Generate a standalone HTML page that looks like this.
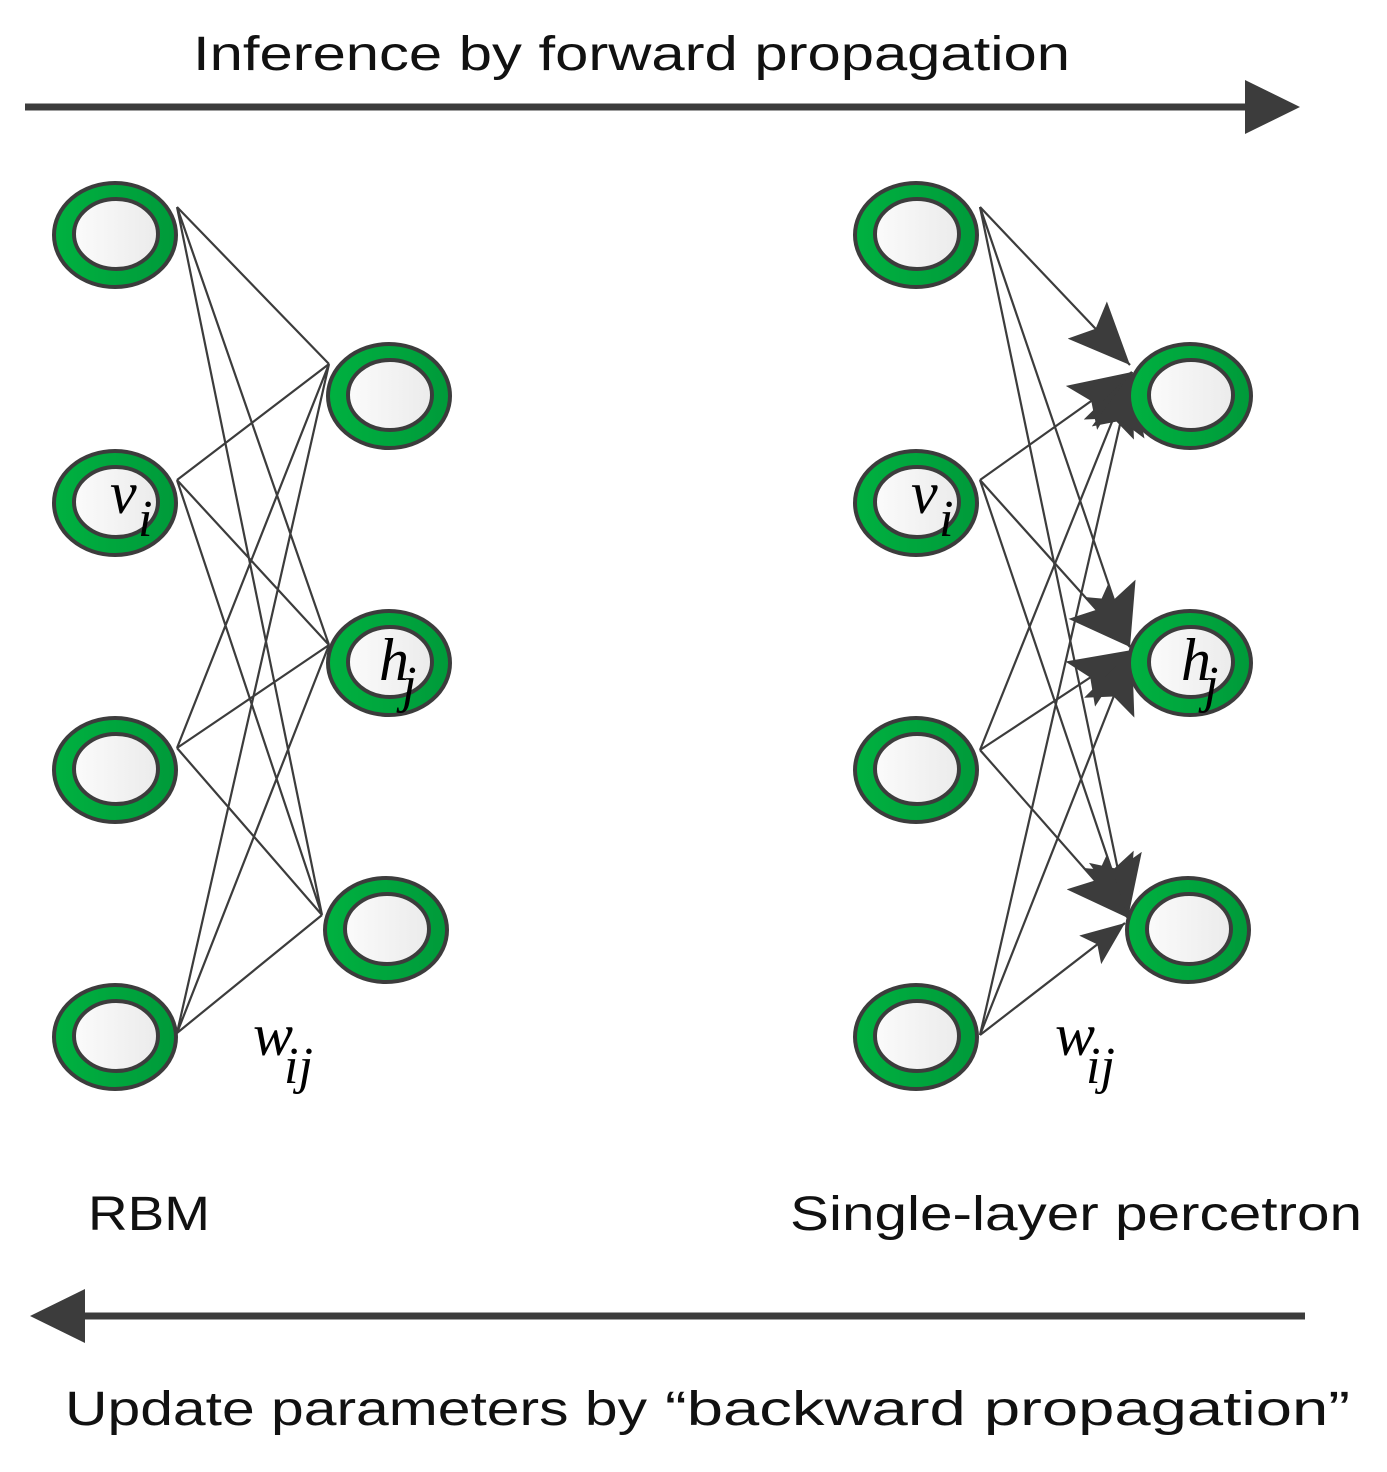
<!DOCTYPE html>
<html><head><meta charset="utf-8"><style>html,body{margin:0;padding:0;background:#fff}svg{display:block}</style></head>
<body>
<svg width="1387" height="1472" viewBox="0 0 1387 1472" xmlns="http://www.w3.org/2000/svg">
<defs>
<linearGradient id="g" x1="0" x2="1"><stop offset="0" stop-color="#00b140"/><stop offset="1" stop-color="#009a3a"/></linearGradient>
<linearGradient id="w" x1="0" x2="1"><stop offset="0" stop-color="#fbfbfb"/><stop offset="1" stop-color="#ebebeb"/></linearGradient>
<marker id="a" markerUnits="userSpaceOnUse" markerWidth="64" markerHeight="54" refX="62" refY="27" orient="auto"><path d="M0,0 L62,27 L0,54 L12,27 Z" fill="#3c3c3c"/></marker>
<marker id="b" markerUnits="userSpaceOnUse" markerWidth="46" markerHeight="36" refX="44" refY="18" orient="auto"><path d="M0,0 L44,18 L0,36 L9,18 Z" fill="#3c3c3c"/></marker>
<g id="n"><ellipse cx="0" cy="0" rx="61" ry="52" fill="url(#g)" stroke="#3c3c3c" stroke-width="4"/><ellipse cx="1" cy="-1" rx="42" ry="35" fill="url(#w)" stroke="#3c3c3c" stroke-width="4"/></g>
</defs>
<g font-family="Liberation Sans, sans-serif" font-size="48" fill="#111">
<text x="193" y="70" textLength="877" lengthAdjust="spacingAndGlyphs">Inference by forward propagation</text>
<text x="88" y="1230" textLength="122" lengthAdjust="spacingAndGlyphs">RBM</text>
<text x="790" y="1230" textLength="572" lengthAdjust="spacingAndGlyphs">Single-layer percetron</text>
<text x="65" y="1425" textLength="582" lengthAdjust="spacingAndGlyphs">Update parameters by</text>
<text x="665" y="1425" textLength="685" lengthAdjust="spacingAndGlyphs">“backward propagation”</text>
</g>
<line x1="25" y1="107" x2="1250" y2="107" stroke="#3c3c3c" stroke-width="7"/>
<path d="M1300,107 L1245,80 L1245,134 Z" fill="#3c3c3c"/>
<line x1="1305" y1="1316" x2="80" y2="1316" stroke="#3c3c3c" stroke-width="7"/>
<path d="M30,1316 L85,1289 L85,1343 Z" fill="#3c3c3c"/>
<g stroke="#3c3c3c" stroke-width="2.2" fill="none">
<path d="M177,207L329,364M177,207L329,645M177,207L322,915M177,480L329,364M177,480L329,645M177,480L322,915M177,748L329,364M177,748L329,645M177,748L322,915M177,1033L329,364M177,1033L329,645M177,1033L322,915"/>
<line x1="980" y1="207" x2="1130" y2="365" marker-end="url(#a)"/>
<line x1="980" y1="207" x2="1130" y2="647" marker-end="url(#a)"/>
<line x1="980" y1="207" x2="1128" y2="918" marker-end="url(#a)"/>
<line x1="980" y1="480" x2="1132" y2="372" marker-end="url(#a)"/>
<line x1="980" y1="480" x2="1130" y2="647" marker-end="url(#a)"/>
<line x1="980" y1="480" x2="1128" y2="918" marker-end="url(#a)"/>
<line x1="980" y1="750" x2="1132" y2="372" marker-end="url(#a)"/>
<line x1="980" y1="750" x2="1132" y2="650" marker-end="url(#a)"/>
<line x1="980" y1="750" x2="1128" y2="918" marker-end="url(#a)"/>
<line x1="980" y1="1035" x2="1132" y2="372" marker-end="url(#a)"/>
<line x1="980" y1="1035" x2="1132" y2="650" marker-end="url(#a)"/>
<line x1="980" y1="1035" x2="1125" y2="923" marker-end="url(#b)"/>
</g>
<use href="#n" x="115" y="235"/><use href="#n" x="115" y="503"/><use href="#n" x="115" y="770"/><use href="#n" x="115" y="1037"/>
<use href="#n" x="389" y="396"/><use href="#n" x="389" y="663"/><use href="#n" x="386" y="930"/>
<use href="#n" x="916" y="235"/><use href="#n" x="916" y="503"/><use href="#n" x="916" y="770"/><use href="#n" x="916" y="1037"/>
<use href="#n" x="1190" y="396"/><use href="#n" x="1190" y="663"/><use href="#n" x="1188" y="930"/>
<g font-family="Liberation Serif, serif" font-style="italic" fill="#000">
<text x="110" y="513" font-size="60">v</text><text x="138" y="536" font-size="52">i</text>
<text x="911" y="513" font-size="60">v</text><text x="939" y="536" font-size="52">i</text>
<text x="379" y="680" font-size="60">h</text><text x="402" y="702" font-size="52">j</text>
<text x="1181" y="680" font-size="60">h</text><text x="1204" y="702" font-size="52">j</text>
<text x="253" y="1055" font-size="60">w</text><text x="284" y="1083" font-size="52">ij</text>
<text x="1055" y="1055" font-size="60">w</text><text x="1086" y="1083" font-size="52">ij</text>
</g>
</svg>
</body></html>
